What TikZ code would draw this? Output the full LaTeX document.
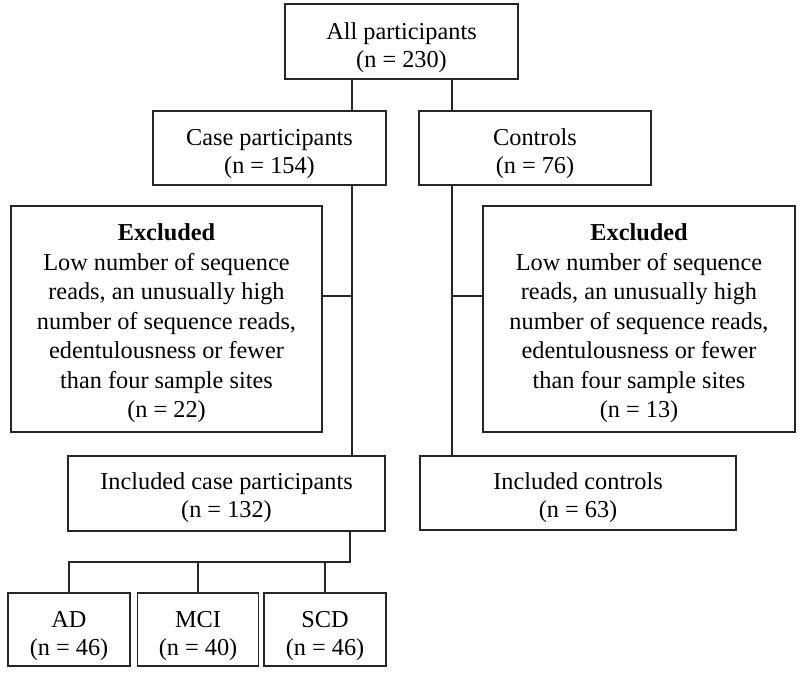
\documentclass[tikz,border=0pt]{standalone}
\usepackage{fontspec}
\setmainfont{Liberation Serif}
\usepackage{tikz}
\usetikzlibrary{arrows, calc, positioning, shapes}
\newcommand{\boxgap}[1]{\rule{0pt}{#1pt}}

\begin{document}
\begin{tikzpicture}[x=1pt, y=1pt,
		box/.style={draw=black!85, line width=1.8pt, align=center, inner sep=0pt,
			font=\fontsize{24.3}{28}\selectfont},
		exbox/.style={box, font=\fontsize{24.3}{29.5}\selectfont},
		link/.style={draw=black!85, line width=1.8pt}]
		\useasboundingbox (0,0) rectangle (800,-675);
		% top row
		\node[box, minimum width=233, minimum height=75] (all) at (401.5,-41.5) {\boxgap{29}All participants\\(n = 230)};
		\node[box, minimum width=233, minimum height=74] (case) at (269.5,-148) {\boxgap{29}Case participants\\(n = 154)};
		\node[box, minimum width=232, minimum height=74] (ctrl) at (535,-148) {\boxgap{29}Controls\\(n = 76)};
		% excluded
		\node[exbox, minimum width=311, minimum height=226] (exclL) at (166.5,-319) {\boxgap{26}\textbf{Excluded}\\Low number of sequence\\reads, an unusually high\\number of sequence reads,\\edentulousness or fewer\\than four sample sites\\(n = 22)};
		\node[exbox, minimum width=312, minimum height=226] (exclR) at (639,-319) {\boxgap{26}\textbf{Excluded}\\Low number of sequence\\reads, an unusually high\\number of sequence reads,\\edentulousness or fewer\\than four sample sites\\(n = 13)};
		% included
		\node[box, minimum width=317, minimum height=75] (inclcase) at (226.5,-493.5) {\boxgap{26}Included case participants\\(n = 132)};
		\node[box, minimum width=316, minimum height=74] (inclctrl) at (578,-493) {\boxgap{26}Included controls\\(n = 63)};
		% groups
		\node[box, minimum width=122, minimum height=73] (ad) at (69,-629.5) {\boxgap{29}AD\\(n = 46)};
		\node[box, minimum width=121, minimum height=73] (mci) at (198,-629.5) {\boxgap{29}MCI\\(n = 40)};
		\node[box, minimum width=122, minimum height=73] (scd) at (325,-629.5) {\boxgap{29}SCD\\(n = 46)};

		\coordinate (lfork) at (352,-296);
		\coordinate (rfork) at (452,-296);
		\coordinate (split) at (350,-562);

		\draw[link] (all.south -| lfork) -- (case.north -| lfork);
		\draw[link] (all.south -| rfork) -- (ctrl.north -| rfork);
		\draw[link] (case.south -| lfork) -- (inclcase.north -| lfork);
		\draw[link] (ctrl.south -| rfork) -- (inclctrl.north -| rfork);
		\draw[link] (lfork) -- (lfork -| exclL.east);
		\draw[link] (rfork) -- (rfork -| exclR.west);
		\draw[link] (inclcase.south -| split) -- (split) -| (ad.north);
		\draw[link] (mci.north) -- (mci.north |- split);
		\draw[link] (scd.north) -- (scd.north |- split);
	\end{tikzpicture}
\end{document}
